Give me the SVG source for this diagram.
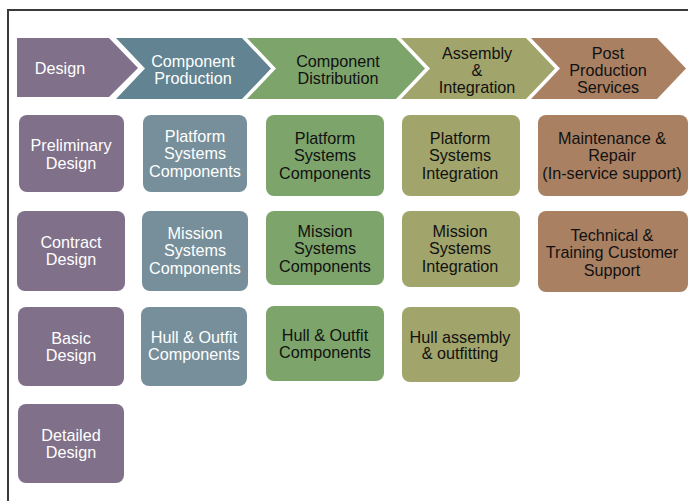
<svg xmlns="http://www.w3.org/2000/svg" width="688" height="501" viewBox="0 0 688 501">
  <style>
    text { font-family: "Liberation Sans", Arial, sans-serif; font-size: 16.2px; text-anchor: middle; }
    .lt { fill: #ffffff; }
    .dk { fill: #111111; }
    .purple { fill: #807089; }
    .slate { fill: #778F9A; }
    .slateDark { fill: #628391; }
    .green { fill: #7DA46B; }
    .olive { fill: #A1A46B; }
    .brown { fill: #A98062; }
  </style>
  <rect x="0" y="0" width="688" height="501" fill="#ffffff"/>
  <!-- frame -->
  <path d="M8,501 V10 H688" fill="none" stroke="#3a3a3a" stroke-width="2"/>

  <!-- process chevrons -->
  <g id="stage-design">
    <polygon class="purple" points="17,38 109,38 138,68 109,97 17,97"/>
    <text class="lt" x="60" y="73.5">Design</text>
  </g>
  <g id="stage-production">
    <polygon class="slateDark" points="116,38 242,38 271,68.5 242,99 116,99 145,68.5"/>
    <text class="lt" x="193" y="66.5">Component</text>
    <text class="lt" x="193" y="83.5">Production</text>
  </g>
  <g id="stage-distribution">
    <polygon class="green" points="247,38 396,38 425,68.5 396,99 247,99 276,68.5"/>
    <text class="dk" x="338" y="66.5">Component</text>
    <text class="dk" x="338" y="83.5">Distribution</text>
  </g>
  <g id="stage-assembly">
    <polygon class="olive" points="401,38 526,38 555,68.5 526,99 401,99 430,68.5"/>
    <text class="dk" x="477" y="58.5">Assembly</text>
    <text class="dk" x="477" y="75.5">&amp;</text>
    <text class="dk" x="477" y="92.5">Integration</text>
  </g>
  <g id="stage-post">
    <polygon class="brown" points="531,38 657,38 686,68.5 657,99 531,99 560,68.5"/>
    <text class="dk" x="608" y="58.5">Post</text>
    <text class="dk" x="608" y="75.5">Production</text>
    <text class="dk" x="608" y="92.5">Services</text>
  </g>

  <!-- design column -->
  <g id="preliminary-design">
    <rect class="purple" x="19" y="115" width="105" height="77" rx="8"/>
    <text class="lt" x="71" y="151">Preliminary</text>
    <text class="lt" x="71" y="168.5">Design</text>
  </g>
  <g id="contract-design">
    <rect class="purple" x="17" y="211" width="108" height="80" rx="8"/>
    <text class="lt" x="71" y="247.5">Contract</text>
    <text class="lt" x="71" y="265">Design</text>
  </g>
  <g id="basic-design">
    <rect class="purple" x="18" y="307" width="106" height="79" rx="8"/>
    <text class="lt" x="71" y="343.5">Basic</text>
    <text class="lt" x="71" y="361">Design</text>
  </g>
  <g id="detailed-design">
    <rect class="purple" x="18" y="404" width="106" height="79" rx="8"/>
    <text class="lt" x="71" y="440.5">Detailed</text>
    <text class="lt" x="71" y="458">Design</text>
  </g>

  <!-- production column -->
  <g id="prod-platform">
    <rect class="slate" x="143" y="115" width="104" height="77" rx="8"/>
    <text class="lt" x="195" y="141.5">Platform</text>
    <text class="lt" x="195" y="159">Systems</text>
    <text class="lt" x="195" y="176.5">Components</text>
  </g>
  <g id="prod-mission">
    <rect class="slate" x="142" y="211" width="106" height="80" rx="8"/>
    <text class="lt" x="195" y="238.5">Mission</text>
    <text class="lt" x="195" y="256">Systems</text>
    <text class="lt" x="195" y="273.5">Components</text>
  </g>
  <g id="prod-hull">
    <rect class="slate" x="141" y="307" width="106" height="79" rx="8"/>
    <text class="lt" x="194" y="342.5">Hull &amp; Outfit</text>
    <text class="lt" x="194" y="360">Components</text>
  </g>

  <!-- distribution column -->
  <g id="dist-platform">
    <rect class="green" x="266" y="115" width="118" height="81" rx="8"/>
    <text class="dk" x="325" y="143.5">Platform</text>
    <text class="dk" x="325" y="161">Systems</text>
    <text class="dk" x="325" y="178.5">Components</text>
  </g>
  <g id="dist-mission">
    <rect class="green" x="266" y="211" width="118" height="74" rx="8"/>
    <text class="dk" x="325" y="236.5">Mission</text>
    <text class="dk" x="325" y="254">Systems</text>
    <text class="dk" x="325" y="271.5">Components</text>
  </g>
  <g id="dist-hull">
    <rect class="green" x="266" y="306" width="118" height="75" rx="8"/>
    <text class="dk" x="325" y="340.5">Hull &amp; Outfit</text>
    <text class="dk" x="325" y="358">Components</text>
  </g>

  <!-- assembly column -->
  <g id="asm-platform">
    <rect class="olive" x="402" y="115" width="118" height="81" rx="8"/>
    <text class="dk" x="460" y="143.5">Platform</text>
    <text class="dk" x="460" y="161">Systems</text>
    <text class="dk" x="460" y="178.5">Integration</text>
  </g>
  <g id="asm-mission">
    <rect class="olive" x="402" y="211" width="118" height="76" rx="8"/>
    <text class="dk" x="460" y="236.5">Mission</text>
    <text class="dk" x="460" y="254">Systems</text>
    <text class="dk" x="460" y="271.5">Integration</text>
  </g>
  <g id="asm-hull">
    <rect class="olive" x="402" y="307" width="118" height="75" rx="8"/>
    <text class="dk" x="460" y="342.5">Hull assembly</text>
    <text class="dk" x="460" y="359">&amp; outfitting</text>
  </g>

  <!-- post production column -->
  <g id="post-maintenance">
    <rect class="brown" x="538" y="115" width="150" height="81" rx="8"/>
    <text class="dk" x="612" y="143.5">Maintenance &amp;</text>
    <text class="dk" x="612" y="161">Repair</text>
    <text class="dk" x="612" y="178.5">(In-service support)</text>
  </g>
  <g id="post-technical">
    <rect class="brown" x="538" y="211" width="150" height="81" rx="8"/>
    <text class="dk" x="612" y="240.5">Technical &amp;</text>
    <text class="dk" x="612" y="258">Training Customer</text>
    <text class="dk" x="612" y="275.5">Support</text>
  </g>

  <!-- no connectors between nodes -->
  <g id="connectors"/>
</svg>
